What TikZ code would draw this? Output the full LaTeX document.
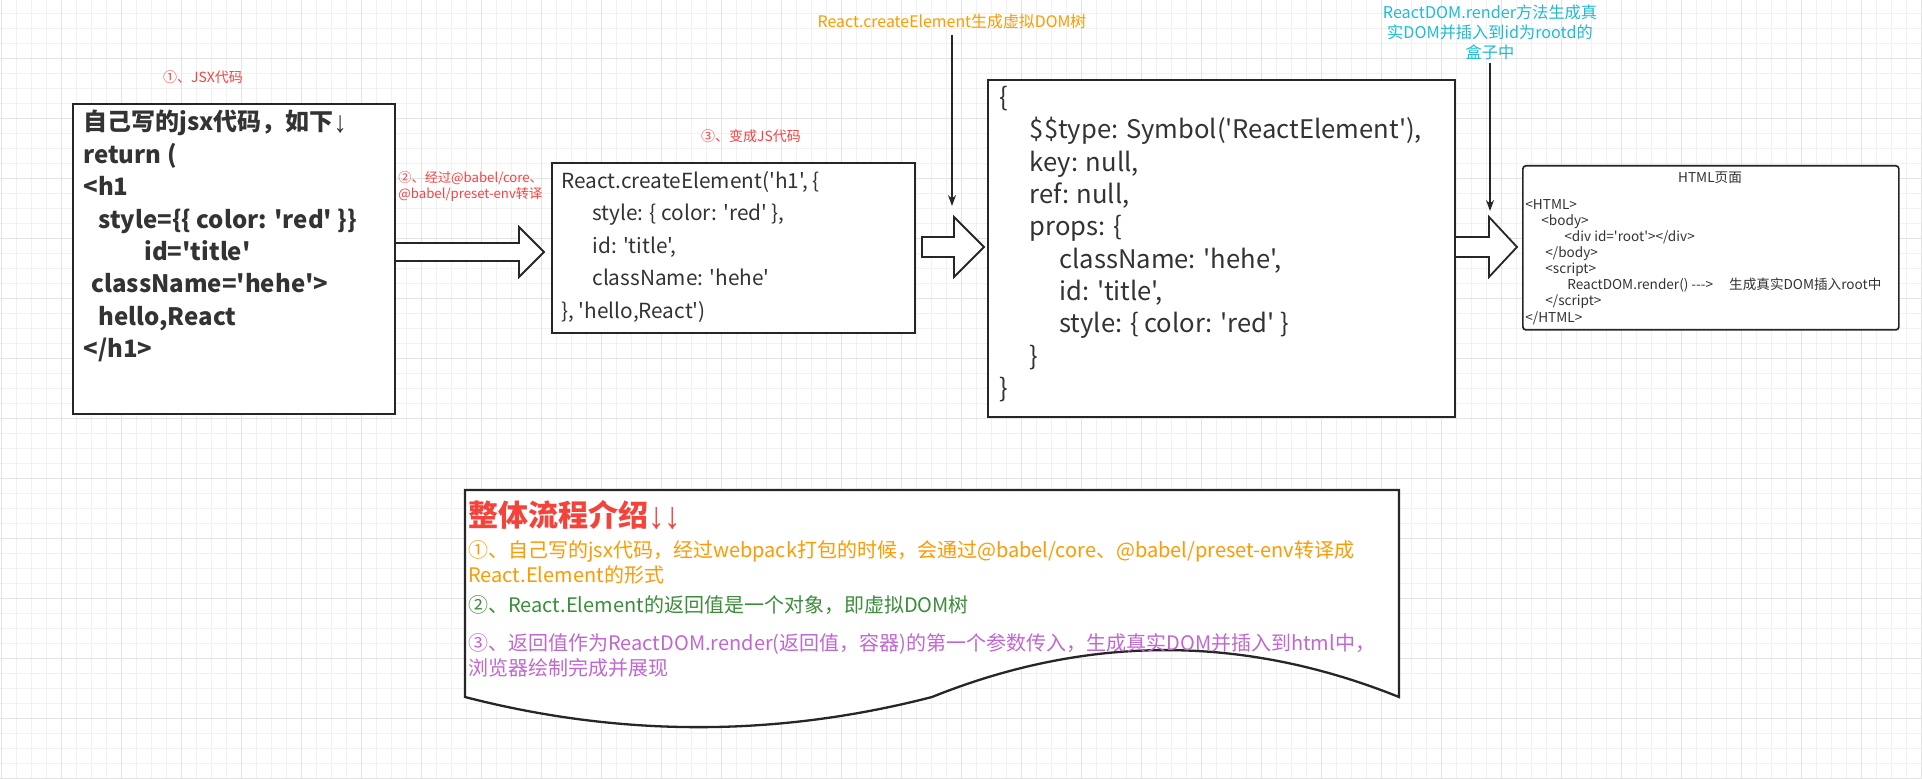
\documentclass[tikz,border=0pt]{standalone}
\usepackage{fontspec}
\setmainfont{Noto Sans CJK SC}[Ligatures=TeXOff]
\newfontfamily\arrowfont{Liberation Sans}
\usetikzlibrary{calc,arrows.meta}

\definecolor{gridminor}{HTML}{F1F1F1}
\definecolor{gridmajor}{HTML}{E3E3E3}
\definecolor{lblred}{HTML}{FF4040}
\definecolor{titlered}{HTML}{F5423A}
\definecolor{lblorange}{HTML}{FF9A00}
\definecolor{lblcyan}{HTML}{1CBCD4}
\definecolor{lblgreen}{HTML}{3A8E3A}
\definecolor{lblpurple}{HTML}{C266D2}
\definecolor{ink}{HTML}{333333}
\definecolor{edge}{HTML}{262626}

\newcommand{\fsz}[2]{\fontsize{#1}{#2}\selectfont}
\newcommand{\dnarrow}{\raisebox{-0.06em}{\scalebox{1.1}[1.25]{\arrowfont\bfseries ↓}}}

\begin{document}
\begin{tikzpicture}[x=0.5pt,y=-0.5pt,
  box/.style={draw=edge, line width=1.15pt, fill=white, inner sep=0pt, anchor=north west},
  code/.style={anchor=north west, align=left, inner sep=0pt, text=ink},
  blockarrow/.style={draw=edge, line width=0.9pt, fill=white, line join=miter},
  thinarrow/.style={draw=edge, line width=0.7pt, -{Stealth[length=5.5pt,width=4pt]}},
  lbl/.style={inner sep=0pt, align=center},
  doctext/.style={anchor=north west, align=left, inner sep=0pt}
]
\useasboundingbox (0,0) rectangle (1922,779);
\fill[white] (0,0) rectangle (1922,779);
% grid
\foreach \x in {1,16,...,1921} \draw[gridminor, line width=0.5pt] (\x,0) -- (\x,779);
\foreach \y in {14,29,...,779} \draw[gridminor, line width=0.5pt] (0,\y) -- (1922,\y);
\foreach \x in {1,61,...,1921} \draw[gridmajor, line width=0.5pt] (\x,0) -- (\x,779);
\foreach \y in {59,119,...,779} \draw[gridmajor, line width=0.5pt] (0,\y) -- (1922,\y);

% block arrows
\draw[blockarrow] (394,243) -- (519,243) -- (519,227) -- (544,252) -- (519,277) -- (519,261) -- (394,261) -- cycle;
\draw[blockarrow] (922,237) -- (954,237) -- (954,217) -- (984,247) -- (954,277) -- (954,257) -- (922,257) -- cycle;
\draw[blockarrow] (1454,237) -- (1489,237) -- (1489,217) -- (1517,247) -- (1489,277) -- (1489,257) -- (1454,257) -- cycle;

% boxes
\node[box, minimum width=161pt, minimum height=155pt] (jsx) at (72,103) {};
\node[box, minimum width=181.5pt, minimum height=85pt] (create) at (551,162) {};
\node[box, minimum width=233.5pt, minimum height=168.5pt] (vdom) at (987,79) {};
\node[box, line width=0.85pt, rounded corners=1.5pt, minimum width=188pt, minimum height=82pt] (html) at (1522,165) {};

% left box text
\node[code, font=\bfseries\fsz{12pt}{16.2pt}] (jsxtext) at (83,110) {自己写的jsx代码，如下\dnarrow\\
return (\\
<h1\\
\hspace*{7.5pt}style=\{\{ color: 'red' \}\}\\
\hspace*{30.5pt}id='title'\\
\hspace*{4pt}className='hehe'>\\
\hspace*{7.5pt}hello,React\\
</h1>};

% createElement text
\node[code, font=\fsz{10.4pt}{16.25pt}] (createtext) at (561,171) {React.createElement('h1', \{\\
\hspace*{15.5pt}style: \{ color: 'red' \},\\
\hspace*{15.5pt}id: 'title',\\
\hspace*{15.5pt}className: 'hehe'\\
\}, 'hello,React')};

% virtual DOM text
\node[code, font=\fsz{12.8pt}{16.15pt}] (vdomtext) at (999,86) {\{\\
\hspace*{15.25pt}\$\$type: Symbol('ReactElement'),\\
\hspace*{15.25pt}key: null,\\
\hspace*{15.25pt}ref: null,\\
\hspace*{15.25pt}props: \{\\
\hspace*{30pt}className: 'hehe',\\
\hspace*{30pt}id: 'title',\\
\hspace*{30pt}style: \{ color: 'red' \}\\
\hspace*{15.25pt}\}\\
\}};

% html box text
\node[lbl, text=ink, font=\fsz{6.8pt}{8pt}] (htmltitle) at (1710,178) {HTML页面};
\node[code, font=\fsz{6.8pt}{8.05pt}] (htmltext) at (1525,199) {<HTML>\\
\hspace*{8pt}<body>\\
\hspace*{19.5pt}<div id='root'></div>\\
\hspace*{10pt}</body>\\
\hspace*{10pt}<script>\\
\hspace*{21pt}ReactDOM.render() --->\hspace{8pt}生成真实DOM插入root中\\
\hspace*{10pt}</script>\\
</HTML>};

% labels
\node[lbl, text=lblred, font=\fsz{7pt}{8pt}] (lbljsx) at (203,77) {①、JSX代码};
\node[lbl, text=lblred, font=\fsz{7pt}{8pt}] (lbljs) at (751,136) {③、变成JS代码};
\node[lbl, text=lblred, font=\fsz{6.6pt}{8pt}, align=left, anchor=west] (lblbabel) at (398,186) {②、经过@babel/core、\\@babel/preset-env转译};
\node[lbl, text=lblorange, font=\fsz{7.95pt}{9pt}] (lblvdom) at (952,22) {React.createElement生成虚拟DOM树};
\node[lbl, text=lblcyan, font=\fsz{8.1pt}{10pt}] (lblrender) at (1490,32) {ReactDOM.render方法生成真\\实DOM并插入到id为rootd的\\盒子中};

% thin arrows
\coordinate (vdomtip) at (952,206);
\coordinate (rendertip) at (1490,211);
\draw[thinarrow] ([yshift=-2.5pt]lblvdom.south) -- (vdomtip);
\draw[thinarrow] ([yshift=-1.5pt]lblrender.south) -- (rendertip);

% document shape
\draw[draw=edge, line width=1.15pt, fill=white] (465,490) -- (1399,490) -- (1399,697)
  .. controls (1243.3,634.5) and (1087.7,634.5) .. (932,697)
  .. controls (776.3,737.2) and (620.7,737.2) .. (465,697) -- cycle;
\node[doctext, text=titlered, font=\bfseries\fsz{15pt}{18pt}] (doctitle) at (468,500) {整体流程介绍\dnarrow\dnarrow};
\node[doctext, text=lblorange, font=\fsz{10pt}{12.5pt}] (docone) at (468,540) {①、自己写的jsx代码，经过webpack打包的时候，会通过@babel/core、@babel/preset-env转译成\\React.Element的形式};
\node[doctext, text=lblgreen, font=\fsz{10pt}{12.5pt}] (doctwo) at (468,595) {②、React.Element的返回值是一个对象，即虚拟DOM树};
\node[doctext, text=lblpurple, font=\fsz{10pt}{12.5pt}] (docthree) at (468,633) {③、返回值作为ReactDOM.render(返回值，容器)的第一个参数传入，生成真实DOM并插入到html中，\\浏览器绘制完成并展现};
\end{tikzpicture}
\end{document}
